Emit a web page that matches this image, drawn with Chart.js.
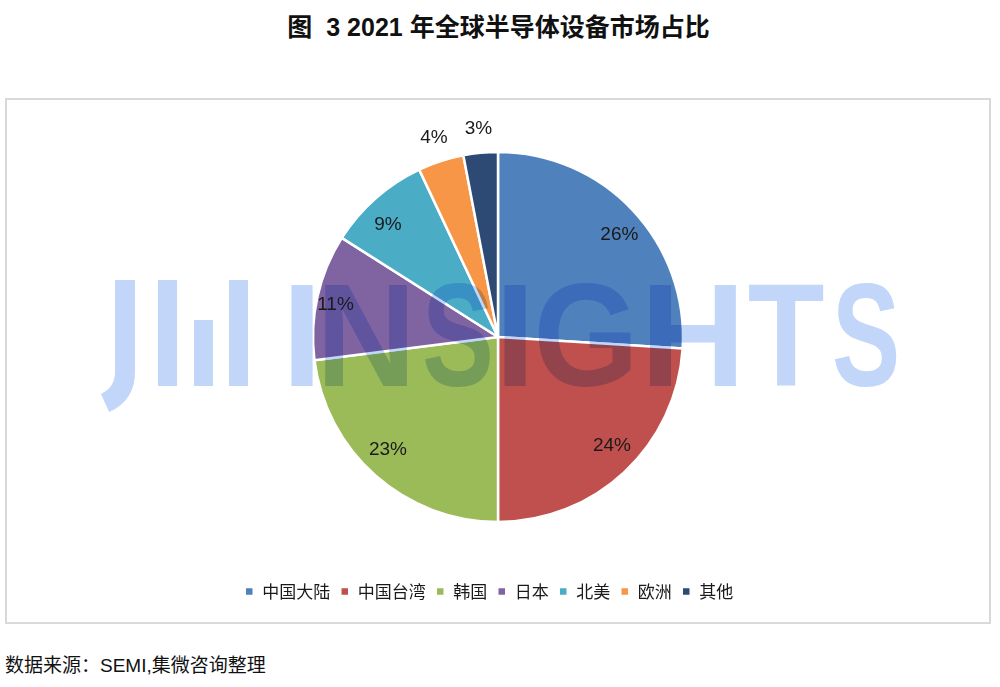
<!DOCTYPE html>
<html>
<head>
<meta charset="utf-8">
<script src="https://cdn.jsdelivr.net/npm/chart.js@4.4.0/dist/chart.umd.min.js"></script>
<style>
  html, body { margin: 0; padding: 0; background: #fff; }
  body { width: 1000px; height: 687px; position: relative; overflow: hidden;
         font-family: "Liberation Sans", "Noto Sans CJK SC", sans-serif; color: #111; }
  #title { position: absolute; left: 0; top: 12px; width: 997px; text-align: center;
           font-size: 25px; font-weight: bold; line-height: 30px; white-space: pre; }
  #box { position: absolute; left: 5px; top: 98px; width: 986px; height: 526px;
         border: 2px solid #d9d9d9; box-sizing: border-box; }
  #wrap { position: absolute; left: 0; top: 0; width: 982px; height: 522px; }
  #source { position: absolute; left: 5px; top: 655px; font-size: 19px; line-height: 22px; }
</style>
</head>
<body>
<div id="title">图  3 2021 年全球半导体设备市场占比</div>
<div id="box"><div id="wrap"><canvas id="pie"></canvas></div></div>
<div id="source">数据来源：SEMI,集微咨询整理</div>
<script>
// chart data
const regions = ['中国大陆', '中国台湾', '韩国', '日本', '北美', '欧洲', '其他'];
const shares = [26, 24, 23, 11, 9, 4, 3];
const sliceColors = ['#4F81BD', '#C0504D', '#9BBB59', '#8064A2', '#4BACC6', '#F79646', '#2C4A74'];

// "JW INSIGHTS" watermark, multiplied over the pie
const watermark = {
  id: 'watermark',
  afterDatasetsDraw(chart) {
    const ctx = chart.ctx;
    const ox = -7, oy = -100; // page coords -> canvas coords
    ctx.save();
    ctx.globalCompositeOperation = 'multiply';
    ctx.fillStyle = '#C2D6FA';
    ctx.strokeStyle = '#C2D6FA';
    // logo
    ctx.lineWidth = 20;
    ctx.beginPath();
    ctx.moveTo(125 + ox, 280 + oy);
    ctx.lineTo(125 + ox, 372 + oy);
    ctx.quadraticCurveTo(125 + ox, 394 + oy, 105 + ox, 403 + oy);
    ctx.stroke();
    ctx.fillRect(158 + ox, 280 + oy, 19, 106);
    ctx.fillRect(194 + ox, 320 + oy, 19, 66);
    ctx.fillRect(229 + ox, 280 + oy, 19, 106);
    // letters
    const letters = [['I', 302, 1], ['N', 366, 0.95], ['S', 458, 0.74], ['I', 515, 1],
                     ['G', 586, 0.93], ['H', 693, 1], ['T', 786, 0.86], ['S', 866, 0.7]];
    ctx.font = 'bold 146px "Liberation Sans"';
    ctx.textAlign = 'center';
    ctx.textBaseline = 'alphabetic';
    letters.forEach(([ch, cx, sx]) => {
      ctx.save();
      ctx.translate(cx + ox, 386 + oy);
      ctx.scale(sx, 1);
      ctx.fillText(ch, 0, 0);
      ctx.restore();
    });
    ctx.restore();
  }
};

// percent labels: inside for big slices, outside for small ones
const sliceLabels = {
  id: 'sliceLabels',
  afterDatasetsDraw(chart) {
    const ctx = chart.ctx;
    const meta = chart.getDatasetMeta(0);
    ctx.save();
    ctx.font = '19px "Liberation Sans"';
    ctx.fillStyle = '#1a1a1a';
    ctx.textAlign = 'center';
    ctx.textBaseline = 'middle';
    meta.data.forEach((arc, i) => {
      const p = arc.getProps(['x', 'y', 'startAngle', 'endAngle', 'outerRadius'], true);
      const mid = (p.startAngle + p.endAngle) / 2;
      const outside = shares[i] < 5;
      const fx = outside ? 1.12 : 0.9;
      const fy = outside ? 1.13 : 0.81;
      ctx.fillText(shares[i] + '%', p.x + Math.cos(mid) * p.outerRadius * fx,
                   p.y + Math.sin(mid) * p.outerRadius * fy);
    });
    ctx.restore();
  }
};

// legend sits a little left of the pie centre in the original
const legendShift = {
  id: 'legendShift',
  afterLayout(chart) {
    chart.legend.left -= 9;
    chart.legend.right -= 9;
  }
};

new Chart(document.getElementById('pie'), {
  type: 'pie',
  data: {
    labels: regions,
    datasets: [{
      data: shares,
      backgroundColor: sliceColors,
      borderColor: '#ffffff',
      borderWidth: 2.5,
      radius: 185
    }]
  },
  options: {
    responsive: true,
    maintainAspectRatio: false,
    animation: false,
    layout: { padding: { top: 1, bottom: 12 } },
    plugins: {
      tooltip: { enabled: false },
      legend: {
        position: 'bottom',
        labels: {
          boxWidth: 9,
          boxHeight: 9,
          padding: 10,
          color: '#1a1a1a',
          font: { size: 17, family: '"Noto Sans CJK SC", sans-serif' }
        }
      }
    }
  },
  plugins: [watermark, sliceLabels, legendShift]
});
</script>
</body>
</html>
